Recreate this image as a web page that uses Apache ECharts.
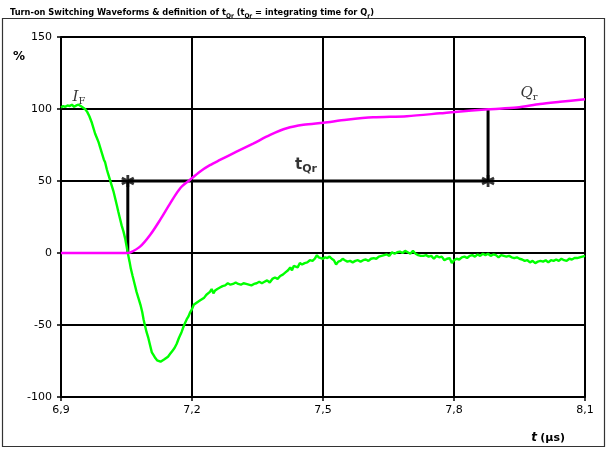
<!DOCTYPE html>
<html>
<head>
<meta charset="utf-8">
<script src="https://cdn.jsdelivr.net/npm/echarts@6/dist/echarts.min.js"></script>
<style>html,body{margin:0;padding:0;background:#fff}#c{width:607px;height:450px}</style>
</head>
<body>
<div id="c"></div>
<script>
// ---- data (time in µs, values in %) ----
const xTicks = [6.9, 7.2, 7.5, 7.8, 8.1];
const yTicks = [-100, -50, 0, 50, 100, 150];

const ifTime = [6.900,6.905,6.910,6.915,6.920,6.925,6.930,6.935,6.940,6.945,6.950,6.955,6.960,6.965,6.970,6.975,6.978,6.982,6.986,6.990,6.994,6.998,7.001,7.005,7.008,7.012,7.016,7.020,7.024,7.028,7.031,7.035,7.039,7.043,7.047,7.050,7.053,7.057,7.060,7.064,7.069,7.073,7.077,7.082,7.086,7.089,7.092,7.096,7.100,7.104,7.108,7.112,7.116,7.120,7.124,7.128,7.132,7.136,7.140,7.145,7.150,7.155,7.160,7.165,7.170,7.176,7.182,7.188,7.192,7.196,7.200,7.204,7.208,7.213,7.218,7.222,7.228,7.233,7.237,7.241,7.245,7.249,7.253,7.258,7.264,7.270,7.276,7.282,7.288,7.294,7.300,7.306,7.312,7.318,7.324,7.330,7.336,7.342,7.348,7.354,7.360,7.366,7.372,7.378,7.384,7.390,7.396,7.402,7.408,7.414,7.420,7.425,7.429,7.433,7.437,7.442,7.447,7.452,7.458,7.464,7.470,7.476,7.481,7.486,7.490,7.495,7.500,7.505,7.510,7.515,7.520,7.525,7.530,7.535,7.540,7.545,7.550,7.556,7.562,7.568,7.574,7.580,7.586,7.592,7.598,7.604,7.610,7.616,7.622,7.628,7.634,7.640,7.646,7.652,7.658,7.664,7.670,7.676,7.682,7.688,7.694,7.700,7.706,7.712,7.718,7.724,7.730,7.736,7.742,7.748,7.754,7.760,7.766,7.772,7.778,7.784,7.790,7.795,7.800,7.806,7.812,7.818,7.824,7.830,7.836,7.842,7.848,7.854,7.860,7.866,7.872,7.878,7.884,7.890,7.896,7.902,7.908,7.914,7.920,7.926,7.932,7.938,7.944,7.950,7.956,7.962,7.968,7.974,7.980,7.986,7.992,7.998,8.004,8.010,8.016,8.022,8.028,8.034,8.040,8.046,8.052,8.058,8.064,8.070,8.076,8.082,8.088,8.094,8.100];
const ifValue = [101,102,101.5,102.5,102,103,101.5,102.5,103,102,101,100,98,95,91,86,83,80,77,73,69,65,63,58,55,51,47,43,38,33,29,24,19,15,10,5,0,-6,-11,-16,-22,-27,-31,-36,-41,-46,-50,-55,-59,-64,-69,-71,-73,-74.5,-74,-75.5,-75,-74,-73.5,-72,-70,-68,-66,-63,-59,-55,-50,-46,-44,-41,-39,-36,-35,-34,-33,-32,-31,-29,-29.5,-27,-25,-28,-26,-25,-24,-23,-22.5,-21,-22,-21.5,-20.5,-21.5,-22,-21,-21.5,-22,-22.5,-21.5,-21,-20,-21,-20,-19,-20.5,-18,-17,-18,-16,-15,-13.5,-12,-10,-12,-9,-8,-10,-7,-8,-7,-6.5,-5,-5.5,-4,-1.5,-3,-3.5,-4,-3,-3.5,-2.5,-4,-5,-8,-6,-5.5,-4,-5,-6,-5.5,-6.5,-5.5,-5,-6,-5,-4.5,-5.5,-4,-3.5,-4,-2.5,-2,-1.5,-1,-2,0.5,-0.5,0.5,1,0,1.5,0.5,-0.5,1.5,-0.5,-1.5,-2,-2,-1.5,-2.5,-2,-4,-2,-3,-2.5,-5,-4,-3.5,-7,-5,-4,-4.5,-3,-2.5,-3.5,-2,-1.5,-2.5,-1,-2,-0.5,-1.5,-0.5,-2,-1,-1.5,-3,-1.5,-2,-2.5,-2,-3,-3.5,-3,-4,-4.5,-5.5,-5,-6.5,-5.5,-7,-6,-5.5,-6,-5,-6.5,-5,-5.5,-4.5,-5.5,-4,-5,-5.5,-4,-4.5,-3.5,-3.5,-3,-2.5,-2];

const qrTime = [6.900,7.053,7.058,7.081,7.104,7.127,7.150,7.173,7.195,7.218,7.241,7.264,7.302,7.340,7.379,7.417,7.455,7.501,7.554,7.615,7.692,7.768,7.802,7.879,7.944,7.997,8.043,8.100];
const qrValue = [0,0,0.2,4.4,12.5,23,34.5,45,50.7,56.5,61,64.6,70.4,76,82,86.6,89,90.5,92.5,94.2,95,97,98,99.8,101,103.5,105,106.7];

// t_Qr definition: start/end time, level
const tqrStart = 7.053;
const tqrEnd = 7.878;
const tqrLevel = 50;
const tqrBase = [0, 100];

const labelIF = [6.941, 108];
const labelQr = [7.972, 111];
const labelTqr = [7.461, 61];

// ---- chart ----
const zip = (a, b) => a.map((v, i) => [v, b[i]]);
const asterisk = 'path://M50 0 L50 100 M6.7 25 L93.3 75 M6.7 75 L93.3 25';
const chart = echarts.init(document.getElementById('c'), null, {renderer: 'canvas'});
const fmt = v => (Math.round(v * 10) / 10).toFixed(1).replace('.', ',');

chart.setOption({
  animation: false,
  backgroundColor: '#fff',
  title: {
    left: 5, top: 1,
    text: '{b|Turn-on Switching Waveforms & definition of t}{s|Qr}{b| (t}{s|Qr}{b| = integrating time for Q}{s|r}{b|)}',
    textStyle: {
      rich: {
        b: {fontFamily: 'DejaVu Sans Condensed', fontWeight: 'bold', fontSize: 9.2, color: '#000', lineHeight: 14, verticalAlign: 'middle'},
        s: {fontFamily: 'DejaVu Sans Condensed', fontWeight: 'bold', fontSize: 6.5, color: '#000', lineHeight: 8, verticalAlign: 'bottom'}
      }
    }
  },
  graphic: [
    {type: 'rect', shape: {x: 2.5, y: 18.5, width: 602, height: 428}, style: {fill: 'none', stroke: '#333', lineWidth: 1.2}, silent: true, z: -1},
    {type: 'text', left: 13, top: 51, style: {text: '%', font: 'bold 12px "DejaVu Sans"', fill: '#000'}}
  ],
  grid: {left: 61, right: 22, top: 37, bottom: 53, show: false},
  xAxis: {
    type: 'value', min: xTicks[0], max: xTicks[xTicks.length - 1], interval: 0.3,
    name: '{i|t} {n|(µs)}', nameLocation: 'end', nameGap: 0,
    nameTextStyle: {align: 'right', verticalAlign: 'top', padding: [35, 20, 0, 0],
      rich: {i: {fontFamily: 'DejaVu Sans', fontWeight: 'bold', fontStyle: 'italic', fontSize: 12, color: '#000'},
             n: {fontFamily: 'DejaVu Sans', fontWeight: 'bold', fontSize: 11, color: '#000'}}},
    axisLine: {show: true, onZero: false, lineStyle: {color: '#000', width: 2}},
    axisTick: {show: true, length: 4, lineStyle: {color: '#000', width: 1.5}},
    axisLabel: {color: '#000', fontFamily: 'DejaVu Sans', fontSize: 11, margin: 8, formatter: fmt},
    splitLine: {show: true, lineStyle: {color: '#000', width: 2}}
  },
  yAxis: {
    type: 'value', min: yTicks[0], max: yTicks[yTicks.length - 1], interval: 50,
    axisLine: {show: true, lineStyle: {color: '#000', width: 2}},
    axisTick: {show: true, length: 4, lineStyle: {color: '#000', width: 1.5}},
    axisLabel: {color: '#000', fontFamily: 'DejaVu Sans', fontSize: 11, margin: 9},
    splitLine: {show: true, lineStyle: {color: '#000', width: 2}}
  },
  series: [
    {
      type: 'line', name: 'tQr', silent: true, symbol: 'none', z: 3,
      data: [[tqrStart, tqrBase[0]], [tqrStart, tqrLevel], [tqrEnd, tqrLevel], [tqrEnd, tqrBase[1]]],
      lineStyle: {color: '#000', width: 3}
    },
    {
      type: 'line', name: 'IF', symbol: 'none', z: 4,
      data: zip(ifTime, ifValue),
      lineStyle: {color: '#00ff00', width: 2.4}
    },
    {
      type: 'line', name: 'Qr', symbol: 'none', z: 4, smooth: 0.3,
      data: zip(qrTime, qrValue),
      lineStyle: {color: '#ff00ff', width: 2.5}
    },
    {
      type: 'scatter', name: 'marks', z: 5, symbol: asterisk, symbolSize: 12,
      itemStyle: {color: 'transparent', borderColor: '#000', borderWidth: 2.8},
      data: [[tqrStart, tqrLevel], [tqrEnd, tqrLevel]]
    },
    {
      type: 'scatter', name: 'labels', z: 6, symbolSize: 1, silent: true,
      itemStyle: {color: 'transparent'},
      label: {show: true, position: 'inside', formatter: p => p.data.t,
        rich: {
          ti: {fontFamily: 'DejaVu Serif', fontStyle: 'italic', fontSize: 15, color: '#000', lineHeight: 18, verticalAlign: 'middle'},
          ts: {fontFamily: 'DejaVu Serif', fontSize: 10, color: '#000', lineHeight: 10, verticalAlign: 'bottom'},
          tb: {fontFamily: 'DejaVu Sans', fontWeight: 'bold', fontSize: 15, color: '#000', lineHeight: 18, verticalAlign: 'middle'},
          tbs: {fontFamily: 'DejaVu Sans', fontWeight: 'bold', fontSize: 11, color: '#000', lineHeight: 11, verticalAlign: 'bottom'}
        }},
      data: [
        {value: labelIF, t: '{ti|I}{ts|F}'},
        {value: labelQr, t: '{ti|Q}{ts|r}'},
        {value: labelTqr, t: '{tb|t}{tbs|Qr}'}
      ]
    }
  ]
});
</script>
</body>
</html>
